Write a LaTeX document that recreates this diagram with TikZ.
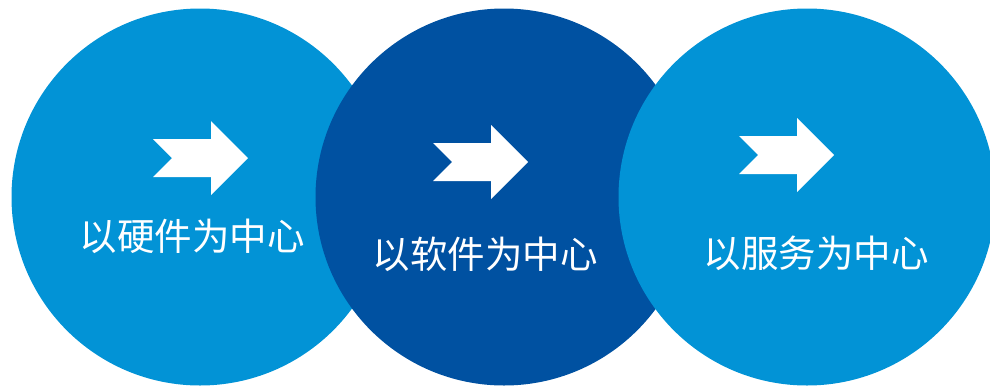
\documentclass[tikz,border=0pt]{standalone}
\usepackage{fontspec}
\newfontfamily\cjk{Noto Sans CJK SC}
\definecolor{lightblue}{RGB}{2,147,214}
\definecolor{darkblue}{RGB}{0,81,161}
\tikzset{
    disc/.style={circle,minimum size=377pt,inner sep=0pt,fill=#1},
    label text/.style={text=white,font=\cjk\fontsize{37.5}{40}\selectfont,inner sep=0pt},
    chevron/.style={fill=white}
}
\begin{document}
\begin{tikzpicture}[x=1pt,y=-1pt]
        \useasboundingbox (0,0) rectangle (990,386);
        \def\r{188.5}
        %% circles, arrows and labels
        \foreach \cx/\ax/\ay/\tx/\ty/\col/\txt/\nm in {200/200/158/192/236/lightblue/以硬件为中心/hw,
                                                  504/480/162/485/254/darkblue/以软件为中心/sw,
                                                  807/786/155/816/253/lightblue/以服务为中心/svc}
        {
            \node[disc=\col] (\nm) at (\cx,197) {};
            \coordinate (\nm-arrow) at (\ax,\ay);
            \fill[chevron] (\nm-arrow) ++(-47,-19) -- ++(58,0) -- ++(0,-18) -- ++(37,37)
                -- ++(-37,37) -- ++(0,-18) -- ++(-58,0) -- ++(19,-19) -- cycle;
            \node[label text] (\nm-label) at (\tx,\ty) {\txt};
        }
    \end{tikzpicture}
\end{document}
